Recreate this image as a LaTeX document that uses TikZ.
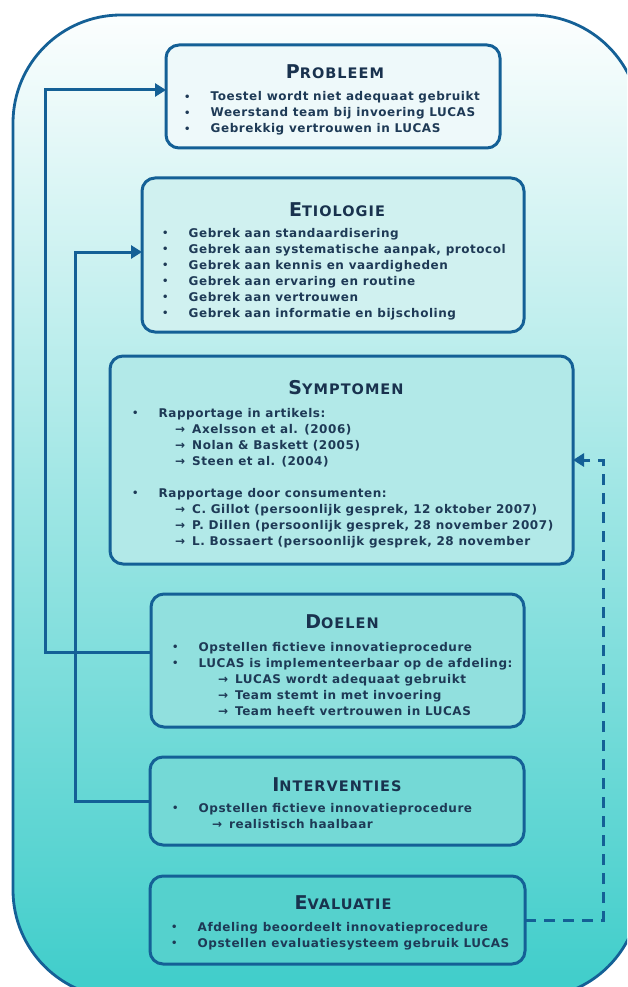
\documentclass[tikz,border=0pt]{standalone}
\usepackage{fontspec}
\setmainfont{DejaVu Sans}
\newfontfamily\bodyfont{DejaVu Sans}[LetterSpace=4.5]
\newfontfamily\ttlfont{DejaVu Sans}[LetterSpace=7]
\usetikzlibrary{arrows.meta}
\definecolor{framec}{RGB}{20,96,150}
\definecolor{txtc}{RGB}{30,58,86}
\definecolor{ttlc}{RGB}{25,50,78}
\definecolor{bgtop}{RGB}{252,254,254}
\definecolor{bgbot}{RGB}{62,205,202}
\definecolor{fA}{RGB}{238,249,250}
\definecolor{fB}{RGB}{208,241,240}
\definecolor{fC}{RGB}{178,233,232}
\definecolor{fD}{RGB}{145,224,222}
\definecolor{fE}{RGB}{116,217,214}
\definecolor{fF}{RGB}{85,209,205}
\newcommand\sct[2]{{\fontsize{19}{19}\selectfont #1}{\fontsize{14.5}{14.5}\selectfont #2}}
\newcommand\bul[1]{\makebox[26.5pt][l]{\raisebox{0.6pt}{\fontsize{10}{10}\selectfont •}}#1}
\newcommand\arr[1]{\makebox[17pt][l]{→}#1}
\tikzset{
  boxnode/.style={rectangle, draw=framec, line width=3pt, rounded corners=13pt, inner sep=0pt, outer sep=0pt},
  txt/.style={anchor=base west, inner sep=0pt, text=txtc, font={\bodyfont\bfseries\fontsize{12}{14}\selectfont}},
  ttl/.style={anchor=base, inner sep=0pt, text=ttlc, font={\ttlfont\bfseries}},
  conn/.style={draw=framec, line width=3pt, -{Triangle[length=11pt,width=13pt]}},
  dconn/.style={conn, dash pattern=on 11pt off 8pt}
}
\begin{document}
\begin{tikzpicture}[x=1pt,y=-1pt]
\useasboundingbox (0,0) rectangle (627,987);
\begin{scope}
\clip (0,0) rectangle (627,987);
\draw[draw=framec, line width=2.8pt, top color=bgtop, bottom color=bgbot, rounded corners=108pt] (13,15) rectangle (640,998);
\end{scope}

% boxes
\node[boxnode, fill=fA, minimum width=334pt, minimum height=103pt] (prob) at (333,96.5) {};
\node[boxnode, fill=fB, minimum width=382pt, minimum height=154pt] (etio) at (333,255) {};
\node[boxnode, fill=fC, minimum width=463pt, minimum height=208pt] (symp) at (341.5,460) {};
\node[boxnode, fill=fD, minimum width=373pt, minimum height=133pt] (doel) at (337.5,660.5) {};
\node[boxnode, fill=fE, minimum width=374pt, minimum height=88pt] (intv) at (337,801) {};
\node[boxnode, fill=fF, minimum width=375pt, minimum height=88pt] (eval) at (337.5,920) {};

% Probleem
\node[ttl] (pt) at (335,79) {\sct{P}{ROBLEEM}};
\node[txt] (p1) at (184,101) {\bul{Toestel wordt niet adequaat gebruikt}};
\node[txt] (p2) at (184,117) {\bul{Weerstand team bij invoering LUCAS}};
\node[txt] (p3) at (184,133) {\bul{Gebrekkig vertrouwen in LUCAS}};

% Etiologie
\node[ttl] (et) at (337,216) {\sct{E}{TIOLOGIE}};
\node[txt] (e1) at (162,237) {\bul{Gebrek aan standaardisering}};
\node[txt] (e2) at (162,253) {\bul{Gebrek aan systematische aanpak, protocol}};
\node[txt] (e3) at (162,269) {\bul{Gebrek aan kennis en vaardigheden}};
\node[txt] (e4) at (162,285) {\bul{Gebrek aan ervaring en routine}};
\node[txt] (e5) at (162,301) {\bul{Gebrek aan vertrouwen}};
\node[txt] (e6) at (162,317) {\bul{Gebrek aan informatie en bijscholing}};

% Symptomen
\node[ttl] (st) at (346,394) {\sct{S}{YMPTOMEN}};
\node[txt] (s1) at (132,417) {\bul{Rapportage in artikels:}};
\node[txt] (s2) at (175,433) {\arr{Axelsson et al. (2006)}};
\node[txt] (s3) at (175,449) {\arr{Nolan \& Baskett (2005)}};
\node[txt] (s4) at (175,465) {\arr{Steen et al. (2004)}};
\node[txt] (s5) at (132,497) {\bul{Rapportage door consumenten:}};
\node[txt] (s6) at (175,513) {\arr{C. Gillot (persoonlijk gesprek, 12 oktober 2007)}};
\node[txt] (s7) at (175,529) {\arr{P. Dillen (persoonlijk gesprek, 28 november 2007)}};
\node[txt] (s8) at (175,545) {\arr{L. Bossaert (persoonlijk gesprek, 28 november}};

% Doelen
\node[ttl] (dt) at (342,628) {\sct{D}{OELEN}};
\node[txt] (d1) at (172,651) {\bul{Opstellen fictieve innovatieprocedure}};
\node[txt] (d2) at (172,667) {\bul{LUCAS is implementeerbaar op de afdeling:}};
\node[txt] (d3) at (218,683) {\arr{LUCAS wordt adequaat gebruikt}};
\node[txt] (d4) at (218,699) {\arr{Team stemt in met invoering}};
\node[txt] (d5) at (218,715) {\arr{Team heeft vertrouwen in LUCAS}};

% Interventies
\node[ttl] (it) at (337,791) {\sct{I}{NTERVENTIES}};
\node[txt] (i1) at (172,812) {\bul{Opstellen fictieve innovatieprocedure}};
\node[txt] (i2) at (212,828) {\arr{realistisch haalbaar}};

% Evaluatie
\node[ttl] (vt) at (343,909) {\sct{E}{VALUATIE}};
\node[txt] (v1) at (171,931) {\bul{Afdeling beoordeelt innovatieprocedure}};
\node[txt] (v2) at (171,947) {\bul{Opstellen evaluatiesysteem gebruik LUCAS}};

% connectors
\draw[conn] ([yshift=8.5pt]doel.west) -- ++(-106,0) |- ([yshift=6.5pt]prob.west);
\draw[conn] (intv.west) -- ++(-75,0) |- ([yshift=3pt]etio.west);
\draw[dconn] (eval.east) -- ++(78,0) |- (symp.east);
\end{tikzpicture}
\end{document}
